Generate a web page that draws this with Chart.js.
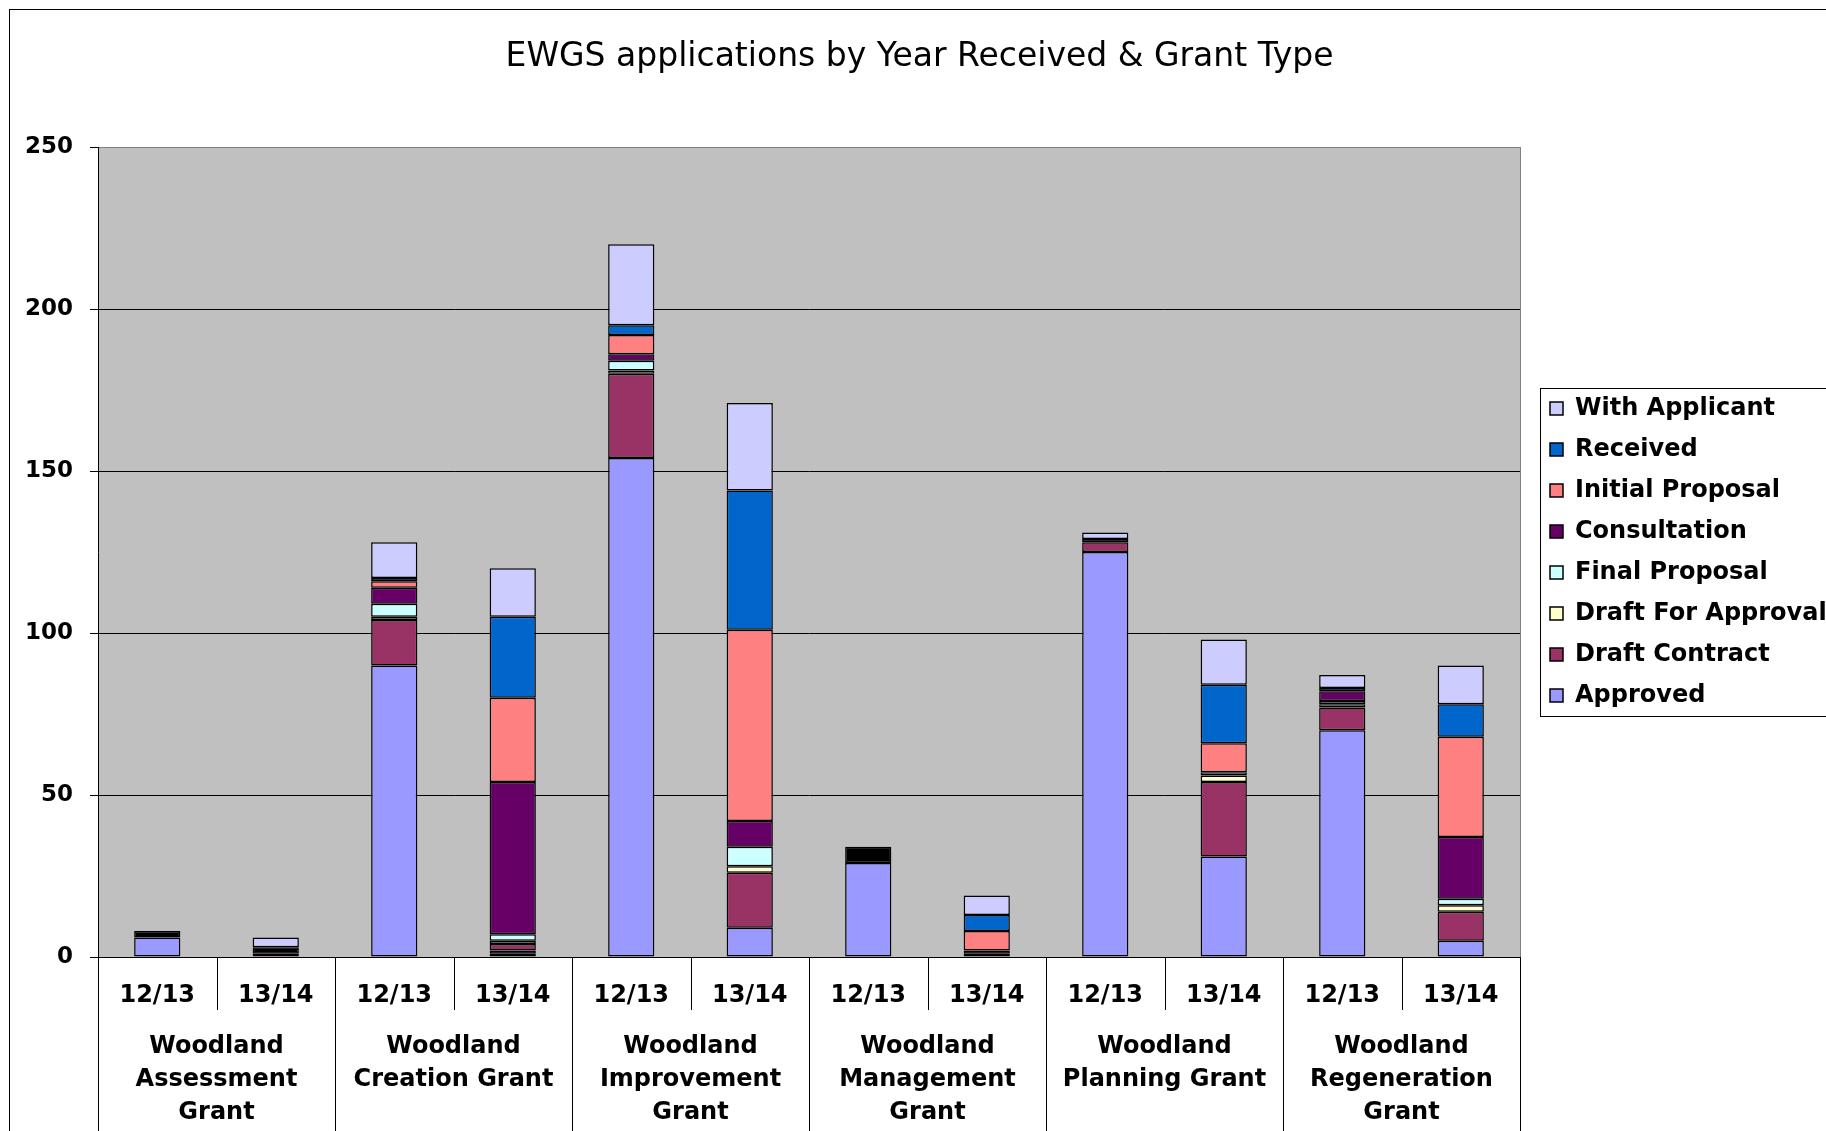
<!DOCTYPE html>
<html>
<head>
<meta charset="utf-8">
<title>EWGS applications by Year Received & Grant Type</title>
<script src="https://cdn.jsdelivr.net/npm/chart.js@4.4.1/dist/chart.umd.min.js"></script>
<style>
  html, body { margin: 0; padding: 0; background: #fff; overflow: hidden; }
  canvas { display: block; }
</style>
</head>
<body>
<canvas id="ewgsChart" width="1826" height="1131"></canvas>
<script>
// grant types (one label line per entry) and the two years under each
const grantTypes = [
  ['Woodland', 'Assessment', 'Grant'],
  ['Woodland', 'Creation Grant'],
  ['Woodland', 'Improvement', 'Grant'],
  ['Woodland', 'Management', 'Grant'],
  ['Woodland', 'Planning Grant'],
  ['Woodland', 'Regeneration', 'Grant']
];
const years = ['12/13', '13/14'];
const yMax = 250;
const yStep = 50;

// one value per bar: WAG 12/13, WAG 13/14, WCG 12/13, WCG 13/14, ...
const approved         = [6, 1, 90, 1, 154, 9, 29, 1, 125, 31, 70, 5];
const blank            = [2, 2, 0, 1, 0, 0, 5, 1, 0, 0, 0, 0];
const draftContract    = [0, 0, 14, 2, 26, 17, 0, 0, 3, 23, 7, 9];
const draftForApproval = [0, 0, 1, 1, 1, 2, 0, 0, 0, 2, 1, 2];
const finalProposal    = [0, 0, 4, 2, 3, 6, 0, 0, 0, 1, 1, 2];
const consultation     = [0, 0, 5, 47, 2, 8, 0, 0, 1, 0, 3, 19];
const initialProposal  = [0, 0, 2, 26, 6, 59, 0, 6, 0, 9, 0, 31];
const received         = [0, 0, 1, 25, 3, 43, 0, 5, 0, 18, 1, 10];
const withApplicant    = [0, 3, 11, 15, 25, 27, 0, 6, 2, 14, 4, 12];

const labels = grantTypes.flatMap(() => years);

function series(label, data, color) {
  return {
    label, data,
    backgroundColor: color,
    borderColor: '#000',
    borderWidth: 1.5,
    borderSkipped: false,
    barPercentage: 0.39,
    categoryPercentage: 1
  };
}

// background, outer frame, multi level axis labels, legend frame
const chartFrame = {
  id: 'chartFrame',
  beforeDraw(chart) {
    const { ctx, chartArea: a } = chart;
    ctx.save();
    ctx.fillStyle = '#fff';
    ctx.fillRect(0, 0, chart.width, chart.height);
    ctx.fillStyle = '#c0c0c0';
    ctx.fillRect(a.left, a.top, a.right - a.left, a.bottom - a.top);
    ctx.strokeStyle = '#000';
    ctx.lineWidth = 1;
    ctx.strokeRect(9.5, 9.5, chart.width + 20, chart.height + 20);
    ctx.restore();
  },
  afterDraw(chart) {
    const { ctx, chartArea: a } = chart;
    const x = chart.scales.x;
    ctx.save();
    ctx.lineWidth = 1;

    // right edge of plot area
    ctx.strokeStyle = '#808080';
    ctx.beginPath();
    ctx.moveTo(Math.round(a.right) + 0.5, a.top);
    ctx.lineTo(Math.round(a.right) + 0.5, a.bottom);
    ctx.stroke();

    // separators under the axis
    ctx.strokeStyle = '#000';
    const n = labels.length;
    for (let k = 0; k <= n; k++) {
      let px;
      if (k === 0) px = a.left;
      else if (k === n) px = a.right;
      else px = (x.getPixelForValue(k - 1) + x.getPixelForValue(k)) / 2;
      const xx = Math.round(px) + 0.5;
      const yEnd = k % 2 === 0 ? chart.height : a.bottom + 53;
      ctx.beginPath();
      ctx.moveTo(xx, a.bottom);
      ctx.lineTo(xx, yEnd);
      ctx.stroke();
    }

    // grant type names
    ctx.fillStyle = '#000';
    ctx.font = 'bold 24px "DejaVu Sans"';
    ctx.textAlign = 'center';
    ctx.textBaseline = 'alphabetic';
    grantTypes.forEach((lines, g) => {
      const cx = (x.getPixelForValue(2 * g) + x.getPixelForValue(2 * g + 1)) / 2;
      lines.forEach((t, j) => {
        ctx.fillText(t, cx, a.bottom + 96 + j * 33.2);
      });
    });

    // legend frame
    const hb = chart.legend.legendHitBoxes;
    if (hb && hb.length) {
      const first = hb[0];
      const last = hb[hb.length - 1];
      const top = Math.round(first.top + first.height / 2 - 21) + 0.5;
      const bottom = Math.round(last.top + last.height / 2 + 20) + 0.5;
      const left = Math.round(first.left) - 9.5;
      ctx.strokeStyle = '#000';
      ctx.strokeRect(left, top, chart.width, bottom - top);
    }
    ctx.restore();
  }
};

Chart.defaults.font.family = '"DejaVu Sans"';
Chart.defaults.color = '#000';

new Chart(document.getElementById('ewgsChart'), {
  type: 'bar',
  data: {
    labels,
    datasets: [
      series('Approved', approved, '#9999ff'),
      series('(blank)', blank, '#000000'),
      series('Draft Contract', draftContract, '#993366'),
      series('Draft For Approval', draftForApproval, '#ffffcc'),
      series('Final Proposal', finalProposal, '#ccffff'),
      series('Consultation', consultation, '#660066'),
      series('Initial Proposal', initialProposal, '#ff8080'),
      series('Received', received, '#0066cc'),
      series('With Applicant', withApplicant, '#ccccff')
    ]
  },
  options: {
    responsive: false,
    animation: false,
    devicePixelRatio: 1,
    layout: { padding: { left: 13, right: 0, top: 0, bottom: 0 } },
    plugins: {
      title: {
        display: true,
        text: 'EWGS applications by Year Received & Grant Type',
        color: '#000',
        font: { size: 33, weight: 'normal' },
        padding: { top: 38, bottom: 69.4 }
      },
      legend: {
        position: 'right',
        fullSize: false,
        reverse: true,
        maxWidth: 293,
        labels: {
          color: '#000',
          font: { size: 24, weight: 'bold' },
          boxWidth: 13,
          boxHeight: 13,
          padding: 17,
          filter: item => item.text !== '(blank)'
        }
      },
      tooltip: { enabled: false }
    },
    scales: {
      x: {
        stacked: true,
        grid: { display: false, drawTicks: false },
        border: { display: true, color: '#000', width: 1 },
        ticks: {
          color: '#000',
          font: { size: 24, weight: 'bold' },
          padding: 24,
          autoSkip: false,
          maxRotation: 0
        },
        afterFit: s => { s.height = 174; }
      },
      y: {
        stacked: true,
        min: 0,
        max: yMax,
        grid: {
          color: c => (c.tick && c.tick.value === yMax ? '#808080' : '#000'),
          tickColor: '#000',
          tickLength: 8,
          lineWidth: 1
        },
        border: { display: true, color: '#000', width: 1 },
        ticks: {
          stepSize: yStep,
          padding: 17,
          color: '#000',
          font: { size: 23, weight: 'bold' }
        },
        afterFit: s => { s.width = 85; }
      },
      y2: {
        position: 'right',
        display: true,
        grid: { display: false, drawTicks: false },
        border: { display: false },
        ticks: { display: false },
        afterFit: s => { s.width = 13; }
      }
    }
  },
  plugins: [chartFrame]
});
</script>
</body>
</html>
